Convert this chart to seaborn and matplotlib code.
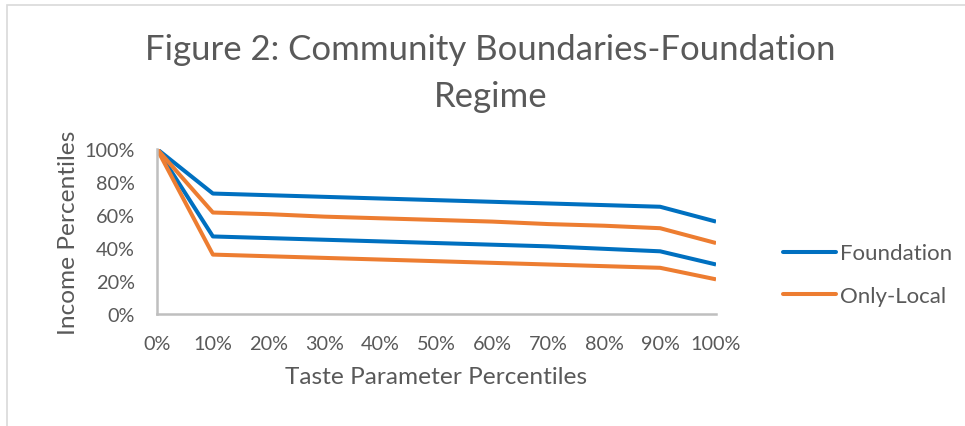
"""Community boundaries under the foundation regime, redrawn with seaborn"""
import pandas as pd
import matplotlib
matplotlib.use("Agg")
import matplotlib.pyplot as plt
from matplotlib.lines import Line2D
from matplotlib.patches import Rectangle
from matplotlib.ticker import PercentFormatter
import seaborn as sns

# data
taste_pct = [0, 10, 20, 30, 40, 50, 60, 70, 80, 90, 100]
tick_labels = [f"{v}%" for v in taste_pct]
foundation_upper = [100, 73, 72, 71, 70, 69, 68, 67, 66, 65, 56]
foundation_lower = [100, 47, 46, 45, 44, 43, 42, 41, 39.5, 38, 30]
local_upper = [100, 61.5, 60.5, 59, 58, 57, 56, 54.5, 53.5, 52, 43]
local_lower = [100, 36, 35, 34, 33, 32, 31, 30, 29, 28, 21]

BLUE = "#0070C0"
ORANGE = "#ED7D31"
GREY = "#595959"

frames = []
for name, series, vals in [
    ("Foundation", "f_up", foundation_upper),
    ("Foundation", "f_lo", foundation_lower),
    ("Only-Local", "l_up", local_upper),
    ("Only-Local", "l_lo", local_lower),
]:
    frames.append(pd.DataFrame({"taste": taste_pct, "income": vals,
                                "regime": name, "boundary": series}))
df = pd.concat(frames, ignore_index=True)

sns.set_style("white")
plt.rcParams["font.family"] = ["Lato", "DejaVu Sans"]

fig = plt.figure(figsize=(9.65, 4.27), dpi=100)
ax = fig.add_axes([0.1627, 0.2623, 0.5793, 0.3864])

sns.lineplot(data=df, x="taste", y="income", hue="regime", units="boundary",
             estimator=None, palette={"Foundation": BLUE, "Only-Local": ORANGE},
             linewidth=2.9, ax=ax, legend=False, solid_capstyle="butt")

ax.set_xlim(0, 100)
ax.set_ylim(0, 100)
ax.set_xticks(taste_pct)
ax.set_xticklabels(tick_labels)
ax.set_yticks([0, 20, 40, 60, 80, 100])
ax.yaxis.set_major_formatter(PercentFormatter(decimals=0))
ax.tick_params(axis="both", length=0, labelsize=14.3, colors=GREY)
ax.tick_params(axis="y", pad=16)
ax.tick_params(axis="x", pad=15)

for side in ["top", "right"]:
    ax.spines[side].set_visible(False)
for side in ["left", "bottom"]:
    ax.spines[side].set_color("#BFBFBF")
    ax.spines[side].set_linewidth(1.8)

ax.set_xlabel("Taste Parameter Percentiles", fontsize=17.6, color=GREY, labelpad=10)
ax.set_ylabel("Income Percentiles", fontsize=17.6, color=GREY, labelpad=4)

fig.text(0.508, 0.828, "Figure 2: Community Boundaries-Foundation\nRegime",
         ha="center", va="center", fontsize=25, color=GREY, linespacing=1.58)

handles = [Line2D([], [], color=BLUE, lw=2.9), Line2D([], [], color=ORANGE, lw=2.9)]
fig.legend(handles, ["Foundation", "Only-Local"], loc="center left",
           bbox_to_anchor=(0.7906, 0.355), frameon=False, fontsize=16,
           labelcolor=GREY, handlelength=2.4, handletextpad=0.18,
           labelspacing=1.0)

# light chart frame, clipped at the right and bottom edges like the source
fig.patches.append(Rectangle((7 / 965, -0.05), 1.0, 1.0 - 6 / 427 + 0.05,
                             transform=fig.transFigure, fill=False,
                             edgecolor="#D9D9D9", linewidth=1.2))

fig.savefig("out.png", dpi=100)
